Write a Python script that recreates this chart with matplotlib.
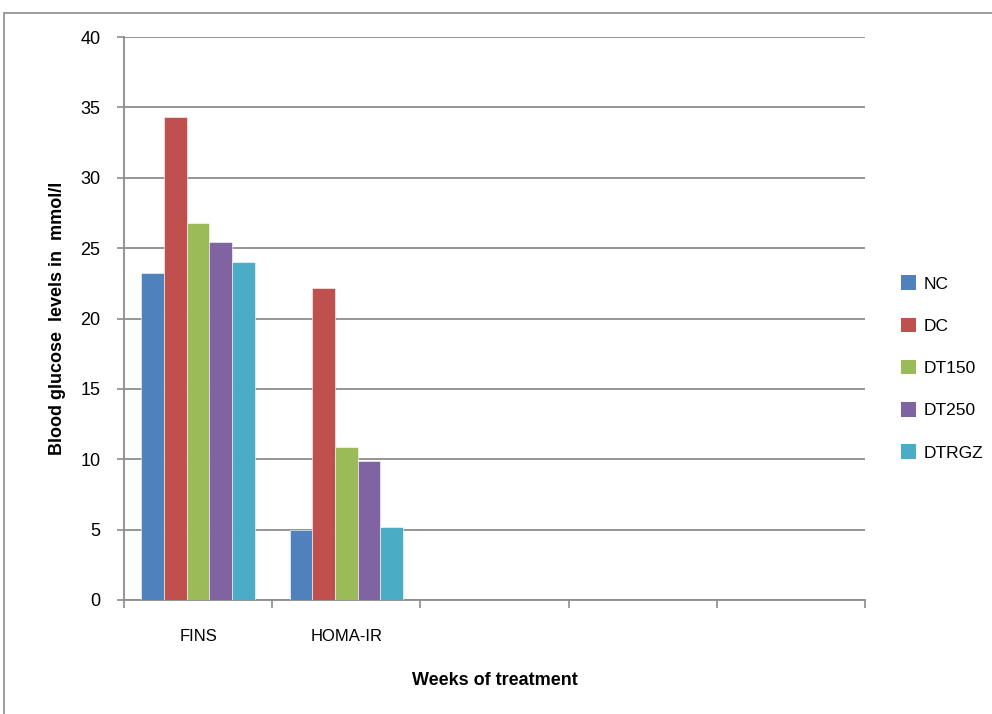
import matplotlib
matplotlib.use("Agg")
import matplotlib.pyplot as plt
from matplotlib.patches import Rectangle, Patch
import numpy as np

plt.rcParams["font.family"] = ["Liberation Sans Narrow", "Liberation Sans", "DejaVu Sans"]

# Data
categories = ["FINS", "HOMA-IR", "", "", ""]
groups = ["NC", "DC", "DT150", "DT250", "DTRGZ"]
nc = [23.2, 5.0]
dc = [34.3, 22.2]
dt150 = [26.8, 10.9]
dt250 = [25.4, 9.85]
dtrgz = [24.0, 5.2]
colors = ["#4f81bd", "#c0504d", "#9bbb59", "#8064a2", "#4bacc6"]

series = [nc, dc, dt150, dt250, dtrgz]

fig = plt.figure(figsize=(9.92, 7.14), dpi=100)
ax = fig.add_axes([124 / 992, 1 - 600 / 714, (865 - 124) / 992, (600 - 37) / 714])

# outer chart border
fig.patches.append(Rectangle((4 / 992, -0.1), 1.2, 1 - 13 / 714 + 0.1,
                             transform=fig.transFigure, fill=False,
                             edgecolor="#8c8c8c", linewidth=1.2))

bar_w = 0.153
x = np.arange(len(nc))
for i, (vals, col) in enumerate(zip(series, colors)):
    ax.bar(x + (i - 2) * bar_w, vals, bar_w, color=col, label=groups[i],
           edgecolor="white", linewidth=0.4, zorder=3)

ax.set_xlim(-0.5, len(categories) - 0.5)
ax.set_ylim(0, 40)
ax.set_yticks(range(0, 41, 5))
ax.yaxis.grid(True, color="#8c8c8c", linewidth=1.3, zorder=0)
ax.set_xticks(range(len(categories)))
ax.set_xticklabels(categories, fontsize=12)
ax.set_xticks(np.arange(-0.5, len(categories), 1), minor=True)
ax.tick_params(axis="x", which="major", length=0, pad=21)
ax.tick_params(axis="x", which="minor", length=6, color="#8c8c8c", width=1.2)
ax.tick_params(axis="y", length=5, color="#8c8c8c", width=1.2, labelsize=13, pad=12)

for s in ["top", "right"]:
    ax.spines[s].set_visible(False)
for s in ["left", "bottom"]:
    ax.spines[s].set_color("#8c8c8c")
    ax.spines[s].set_linewidth(1.3)

ax.set_xlabel("Weeks of treatment", fontsize=13, fontweight="bold", labelpad=20)
ax.set_ylabel("Blood glucose  levels in  mmol/l", fontsize=13, fontweight="bold", labelpad=10)

handles = [Patch(facecolor=c, label=g) for c, g in zip(colors, groups)]
fig.legend(handles=handles, loc="center left", bbox_to_anchor=(892 / 992, 1 - 368 / 714),
           frameon=False, fontsize=12.5, handlelength=0.9, handleheight=0.9,
           handletextpad=0.4, labelspacing=1.5, borderpad=0)

fig.savefig("out.png", dpi=100)
